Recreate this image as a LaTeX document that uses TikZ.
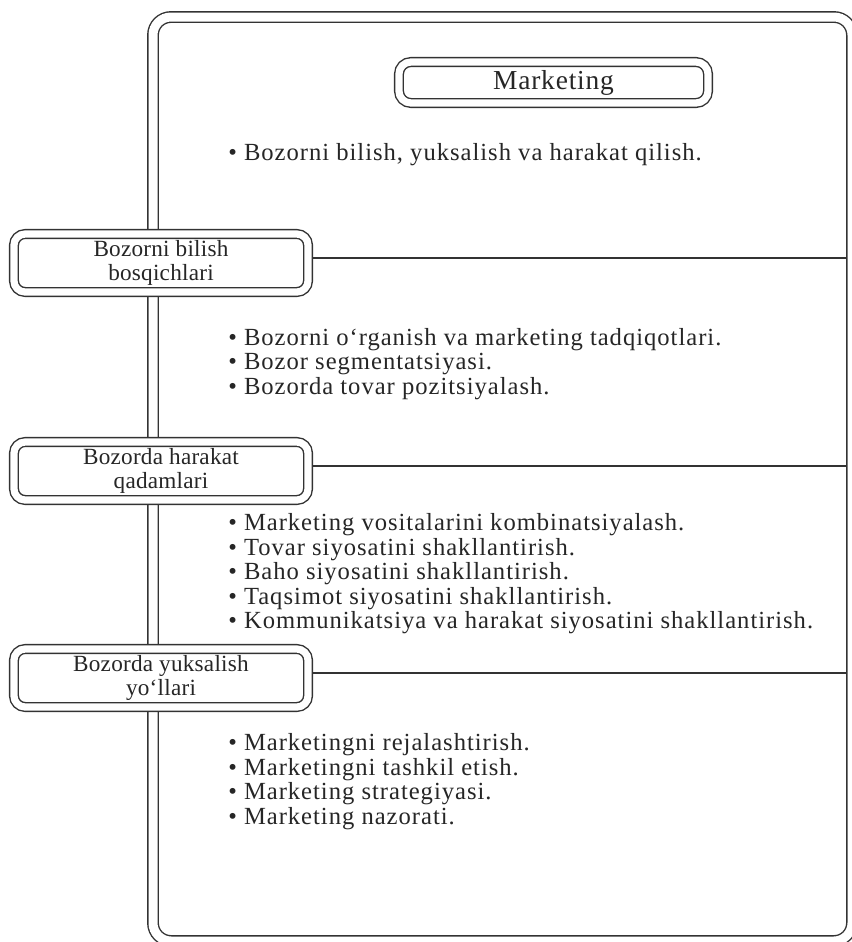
\documentclass[tikz,border=0pt]{standalone}
\usepackage{fontspec}
\setmainfont{Liberation Serif}
\newfontfamily\labelfont{Liberation Serif}[LetterSpace=1]
\newfontfamily\listfont{Liberation Serif}[LetterSpace=4]
\newfontfamily\headfont{Liberation Serif}[LetterSpace=3]
\begin{document}
\begin{tikzpicture}[x=0.025cm,y=-0.025cm,
  ink/.style={draw=black!80, line width=1pt},
  twin/.style={ink, double=white, double distance=0.18cm},
  framebox/.style={twin, double distance=0.225cm, rounded corners=0.45cm},
  plainbox/.style={twin, fill=white, align=center, inner sep=0pt, text=black!85},
  labelbox/.style={plainbox, rounded corners=0.28cm, minimum width=7.35cm,
    minimum height=1.45cm, font=\labelfont\fontsize{16.5}{16.5}\selectfont,
    execute at begin node={\rule{0pt}{17pt}}},
  titlebox/.style={plainbox, minimum width=7.725cm, minimum height=1.025cm,
    rounded corners=0.3cm, font=\headfont\fontsize{19.5}{22}\selectfont},
  item/.style={anchor=west, inner sep=0pt,
    font=\listfont\fontsize{17.5}{20}\selectfont, text=black!85},
  rule/.style={ink}]
\useasboundingbox (0,0) rectangle (852,942);
\fill[white] (0,0) rectangle (852,942);
% outer double frame, its right and bottom outer strokes run off the page
\begin{scope}
  \clip (0,0) rectangle (852,942);
  \draw[framebox] (153,17) rectangle (852,941);
\end{scope}
\coordinate (rim) at (847,0);

% title
\node[titlebox] (title) at (553.5,82.5) {Marketing};
\node[item] (intro) at (228,155) {\textbullet\ Bozorni bilish, yuksalish va harakat qilish.};

% section boxes
\node[labelbox] (k1) at (161,263) {Bozorni bilish\\bosqichlari};
\node[labelbox] (k2) at (161,471) {Bozorda harakat\\qadamlari};
\node[labelbox] (k3) at (161,678) {Bozorda yuksalish\\yo\textquoteleft llari};

% rules from each box to the right edge of the frame
\foreach \k in {k1,k2,k3}{
  \path (\k.east) ++(4.5,-5) coordinate (\k r);
  \draw[rule] (\k r) -- (\k r -| rim);
}

% first list
\foreach \t [count=\i from 0] in {Bozorni o\textquoteleft rganish va marketing tadqiqotlari.,
    Bozor segmentatsiyasi., Bozorda tovar pozitsiyalash.}
  \node[item] (a\i) at (228,340+24.5*\i) {\textbullet\ \t};

% second list
\foreach \t [count=\i from 0] in {Marketing vositalarini kombinatsiyalash.,
    Tovar siyosatini shakllantirish., Baho siyosatini shakllantirish.,
    Taqsimot siyosatini shakllantirish., Kommunikatsiya va harakat siyosatini shakllantirish.}
  \node[item] (b\i) at (228,525+24.5*\i) {\textbullet\ \t};

% third list
\foreach \t [count=\i from 0] in {Marketingni rejalashtirish., Marketingni tashkil etish.,
    Marketing strategiyasi., Marketing nazorati.}
  \node[item] (c\i) at (228,745+24.5*\i) {\textbullet\ \t};
\end{tikzpicture}
\end{document}
